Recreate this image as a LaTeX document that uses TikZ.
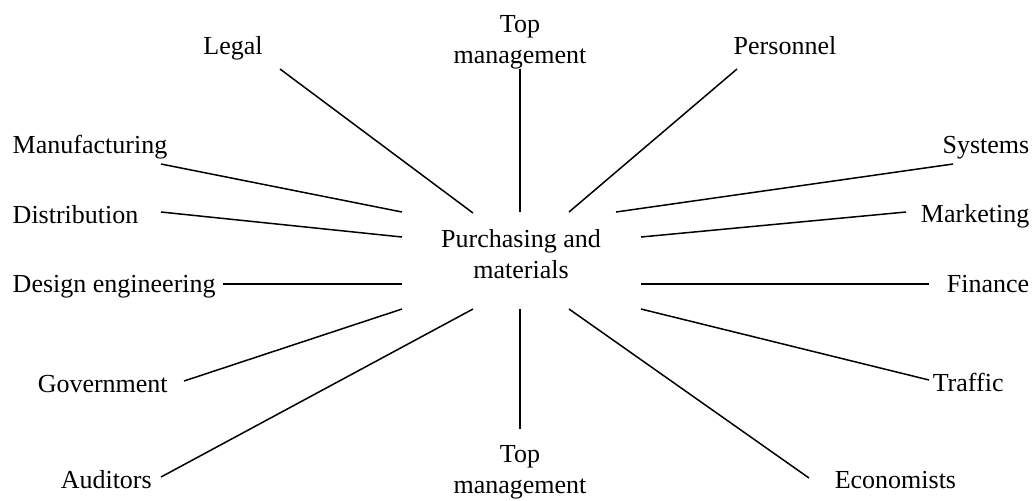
\documentclass[tikz,border=0pt]{standalone}
\usepackage{fontspec}
\setmainfont{Liberation Serif}
\usetikzlibrary{positioning}

\begin{document}
\begin{tikzpicture}[x=0.5pt, y=-0.5pt, line width=0.75pt,
    font=\fontsize{13}{15.5}\selectfont,
    every node/.style={inner sep=0pt}]
    \useasboundingbox (0,0) rectangle (1034,500);

    % Centre
    \node[align=center, anchor=north] (hub) at (521,229) {Purchasing and\\materials};

    % Departments
    \node[anchor=north, align=center] (topm) at (520,15) {Top\\management};
    \node[anchor=north, align=center] (botm) at (520,445) {Top\\management};
    \node[anchor=base] (legal) at (233,54) {Legal};
    \node[anchor=base] (pers) at (785,54) {Personnel};
    \node[anchor=base west] (manu) at (12,153) {Manufacturing};
    \node[anchor=base west] (dist) at (12,223) {Distribution};
    \node[anchor=base west] (design) at (12,292) {Design engineering};
    \node[anchor=base west] (gov) at (37,392) {Government};
    \node[anchor=base west] (aud) at (60,488) {Auditors};
    \node[anchor=base east] (sys) at (1030,153) {Systems};
    \node[anchor=base east] (mkt) at (1030,222) {Marketing};
    \node[anchor=base east] (fin) at (1030,292) {Finance};
    \node[anchor=base west] (traf) at (932,391) {Traffic};
    \node[anchor=base west] (econ) at (834,488) {Economists};

    % Spoke ends
    \coordinate (legal-e) at (280,69);   \coordinate (legal-h) at (473,213);
    \coordinate (topm-e) at (520,69);    \coordinate (topm-h) at (520,212);
    \coordinate (pers-e) at (737,69);    \coordinate (pers-h) at (569,212);
    \coordinate (manu-e) at (161,164);   \coordinate (manu-h) at (402,212);
    \coordinate (sys-e) at (953,164);    \coordinate (sys-h) at (616,212);
    \coordinate (dist-e) at (161,212);   \coordinate (dist-h) at (402,237);
    \coordinate (mkt-e) at (906,212);    \coordinate (mkt-h) at (641,237);
    \coordinate (design-e) at (223,284); \coordinate (design-h) at (402,284);
    \coordinate (fin-e) at (929,284);    \coordinate (fin-h) at (641,284);
    \coordinate (gov-e) at (184,381);    \coordinate (gov-h) at (402,309);
    \coordinate (traf-e) at (929,380);   \coordinate (traf-h) at (641,309);
    \coordinate (aud-e) at (161,477);    \coordinate (aud-h) at (473,309);
    \coordinate (botm-e) at (520,429);   \coordinate (botm-h) at (520,309);
    \coordinate (econ-e) at (809,478);   \coordinate (econ-h) at (569,309);

    % Spokes
    \draw (legal-e) -- (legal-h);
    \draw (topm-e) -- (topm-h);
    \draw (pers-e) -- (pers-h);
    \draw (manu-e) -- (manu-h);
    \draw (sys-e) -- (sys-h);
    \draw (dist-e) -- (dist-h);
    \draw (mkt-e) -- (mkt-h);
    \draw (design-e) -- (design-h);
    \draw (fin-e) -- (fin-h);
    \draw (gov-e) -- (gov-h);
    \draw (traf-e) -- (traf-h);
    \draw (aud-e) -- (aud-h);
    \draw (botm-e) -- (botm-h);
    \draw (econ-e) -- (econ-h);
\end{tikzpicture}
\end{document}
